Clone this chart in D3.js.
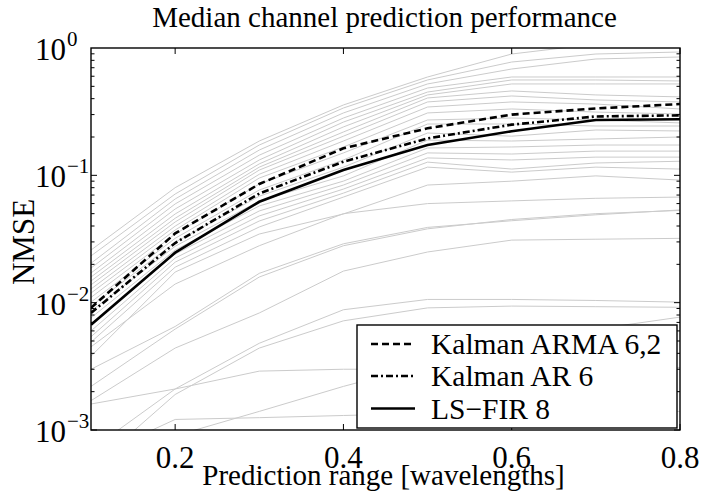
<!DOCTYPE html>
<html><head><meta charset="utf-8">
<script src="https://cdn.jsdelivr.net/npm/d3@7"></script>
<style>body{margin:0;background:#fff}svg{display:block}text{font-family:"Liberation Serif","Times New Roman",serif;fill:#000}</style>
</head><body>
<script>
const ranges = [0.1, 0.2, 0.3, 0.4, 0.5, 0.6, 0.7, 0.8];
const xTicks = [0.2, 0.4, 0.6, 0.8];
const yTickExps = [0, -1, -2, -3];
const kalmanArma = [0.0091, 0.035, 0.0855, 0.163, 0.234, 0.30, 0.335, 0.363];
const kalmanAr = [0.0083, 0.0294, 0.072, 0.128, 0.195, 0.25, 0.29, 0.296];
const lsFir = [0.0067, 0.0247, 0.062, 0.110, 0.173, 0.222, 0.272, 0.276];
const seriesNames = ["Kalman ARMA 6,2", "Kalman AR 6", "LS\u2212FIR 8"];
// individual channel curves (grey)
const channels = [
  [0.0259, 0.080, 0.186, 0.357, 0.592, 0.897, 1.075, 1.155],
  [0.0233, 0.0713, 0.173, 0.338, 0.561, 0.776, 0.897, 0.93],
  [0.0204, 0.0652, 0.158, 0.309, 0.522, 0.684, 0.82, 0.85],
  [0.0187, 0.0596, 0.144, 0.282, 0.485, 0.592, 0.592, 0.592],
  [0.0171, 0.0544, 0.132, 0.262, 0.451, 0.561, 0.561, 0.551],
  [0.0159, 0.0497, 0.123, 0.240, 0.428, 0.522, 0.522, 0.522],
  [0.0148, 0.046, 0.116, 0.219, 0.405, 0.46, 0.428, 0.413],
  [0.0138, 0.043, 0.110, 0.203, 0.377, 0.42, 0.391, 0.377],
  [0.0128, 0.0399, 0.102, 0.186, 0.344, 0.377, 0.363, 0.332],
  [0.0119, 0.0372, 0.0952, 0.167, 0.309, 0.332, 0.314, 0.303],
  [0.0110, 0.0346, 0.0855, 0.150, 0.272, 0.282, 0.272, 0.258],
  [0.0101, 0.032, 0.0767, 0.132, 0.253, 0.253, 0.244, 0.244],
  [0.0094, 0.0298, 0.0686, 0.116, 0.215, 0.203, 0.227, 0.223],
  [0.0086, 0.0277, 0.0629, 0.099, 0.189, 0.186, 0.193, 0.200],
  [0.0076, 0.0259, 0.0575, 0.0901, 0.164, 0.167, 0.173, 0.173],
  [0.0068, 0.0241, 0.0525, 0.0839, 0.150, 0.147, 0.155, 0.155],
  [0.0060, 0.0224, 0.048, 0.078, 0.137, 0.132, 0.139, 0.139],
  [0.0054, 0.0208, 0.0438, 0.0725, 0.127, 0.112, 0.125, 0.129],
  [0.0049, 0.019, 0.0393, 0.0675, 0.116, 0.106, 0.116, 0.112],
  [0.0038, 0.0174, 0.0346, 0.0497, 0.0839, 0.090, 0.099, 0.0918],
  [0.0045, 0.014, 0.028, 0.050, 0.060, 0.063, 0.066, 0.0675],
  [0.0030, 0.0065, 0.017, 0.029, 0.039, 0.044, 0.049, 0.0535],
  [0.0022, 0.0062, 0.0159, 0.028, 0.038, 0.045, 0.050, 0.053],
  [0.0017, 0.0044, 0.0083, 0.0177, 0.025, 0.031, 0.0315, 0.032],
  [0.0007, 0.0021, 0.0048, 0.0088, 0.0106, 0.0106, 0.0104, 0.0101],
  [0.0005, 0.0019, 0.0044, 0.0072, 0.0091, 0.0094, 0.0093, 0.0092],
  [0.0004, 0.0009, 0.0014, 0.0022, 0.0033, 0.0045, 0.0062, 0.0077],
  [0.0016, 0.0021, 0.0029, 0.0030, 0.0030, 0.0031, 0.0031, 0.0031],
  [0.0006, 0.00121, 0.00125, 0.0013, 0.00135, 0.0014, 0.0014, 0.0014]
];

const W = 701, H = 492;
const m = {left: 91, right: 680, top: 48, bottom: 430};
const svg = d3.select("body").append("svg").attr("width", W).attr("height", H);
const x = d3.scaleLinear().domain([0.1, 0.8]).range([m.left, m.right]);
const y = d3.scaleLog().domain([1e-3, 1]).range([m.bottom, m.top]);

svg.append("clipPath").attr("id", "clip").append("rect")
  .attr("x", m.left).attr("y", m.top).attr("width", m.right - m.left).attr("height", m.bottom - m.top);

const line = d3.line().x((d, i) => x(ranges[i])).y(d => y(d));
const plot = svg.append("g").attr("clip-path", "url(#clip)");
plot.selectAll("path.ch").data(channels).join("path").attr("class", "ch")
  .attr("d", line).attr("fill", "none").attr("stroke", "#cbcbcb").attr("stroke-width", 1);

const styles = [
  {data: kalmanArma, dash: "7,4"},
  {data: kalmanAr, dash: "7,3,2,3"},
  {data: lsFir, dash: null}
];
styles.forEach(s => {
  plot.append("path").attr("d", line(s.data)).attr("fill", "none")
    .attr("stroke", "#000").attr("stroke-width", 2.6)
    .attr("stroke-dasharray", s.dash);
});

// frame & ticks
const ax = svg.append("g");
ax.append("rect").attr("x", m.left).attr("y", m.top).attr("width", m.right - m.left).attr("height", m.bottom - m.top)
  .attr("fill", "none").attr("stroke", "#000").attr("stroke-width", 1.4);
xTicks.forEach(t => {
  ax.append("line").attr("x1", x(t)).attr("x2", x(t)).attr("y1", m.bottom).attr("y2", m.bottom - 6).attr("stroke", "#000");
  ax.append("line").attr("x1", x(t)).attr("x2", x(t)).attr("y1", m.top).attr("y2", m.top + 6).attr("stroke", "#000");
  ax.append("text").attr("x", x(t)).attr("y", 468).attr("text-anchor", "middle")
    .attr("font-size", 31).text(d3.format(".1f")(t));
});
for (let e = -3; e < 0; e++) {
  for (let k = 1; k < 10; k++) {
    const v = k * Math.pow(10, e);
    const len = k === 1 ? 6 : 3.5;
    ax.append("line").attr("x1", m.left).attr("x2", m.left + len).attr("y1", y(v)).attr("y2", y(v)).attr("stroke", "#000");
    ax.append("line").attr("x1", m.right).attr("x2", m.right - len).attr("y1", y(v)).attr("y2", y(v)).attr("stroke", "#000");
  }
}
yTickExps.forEach(e => {
  const yy = y(Math.pow(10, e));
  ax.append("text").attr("x", 66).attr("y", yy + 12).attr("text-anchor", "end").attr("font-size", 31).text("10");
  ax.append("text").attr("x", 67).attr("y", yy - 2).attr("text-anchor", "start").attr("font-size", 21)
    .text(e === 0 ? "0" : "\u2212" + Math.abs(e));
});

svg.append("text").attr("x", (m.left + m.right) / 2 - 1).attr("y", 27).attr("text-anchor", "middle")
  .attr("font-size", 29).text("Median channel prediction performance");
svg.append("text").attr("x", (m.left + m.right) / 2 - 2).attr("y", 485).attr("text-anchor", "middle")
  .attr("font-size", 29).text("Prediction range [wavelengths]");
svg.append("text").attr("transform", "translate(34,242) rotate(-90)").attr("text-anchor", "middle")
  .attr("font-size", 31).text("NMSE");

// legend
const lg = svg.append("g");
lg.append("rect").attr("x", 357).attr("y", 325).attr("width", 320).attr("height", 103)
  .attr("fill", "#fff").attr("stroke", "#000").attr("stroke-width", 1.4);
const rowY = [344, 376, 408.5];
styles.forEach((s, i) => {
  lg.append("line").attr("x1", 371).attr("x2", 415).attr("y1", rowY[i]).attr("y2", rowY[i])
    .attr("stroke", "#000").attr("stroke-width", 2.6).attr("stroke-dasharray", s.dash);
  lg.append("text").attr("x", 431).attr("y", rowY[i] + 10).attr("font-size", 29.5).text(seriesNames[i]);
});
</script>
</body></html>
